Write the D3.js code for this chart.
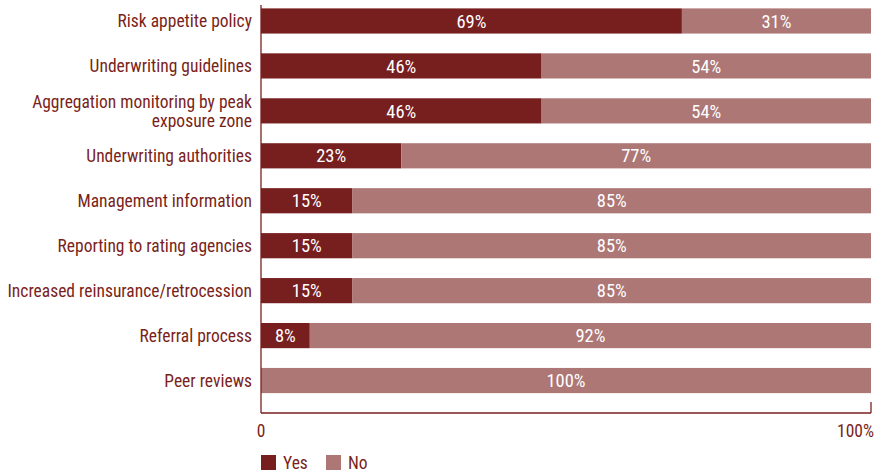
<!DOCTYPE html>
<html>
<head>
<meta charset="utf-8">
<script src="https://cdn.jsdelivr.net/npm/d3@7"></script>
<style>
  html, body { margin: 0; padding: 0; background: #fff; }
  svg { display: block; font-family: "Liberation Sans Narrow", "Arial Narrow", "Roboto Condensed", sans-serif; font-stretch: condensed; }
</style>
</head>
<body>
<svg id="chart" width="878" height="475"></svg>
<script>
// Share of respondents using each control, Yes vs No
const categories = [
  "Risk appetite policy",
  "Underwriting guidelines",
  "Aggregation monitoring by peak|exposure zone",
  "Underwriting authorities",
  "Management information",
  "Reporting to rating agencies",
  "Increased reinsurance/retrocession",
  "Referral process",
  "Peer reviews"
];
const yesValues = [69, 46, 46, 23, 15, 15, 15, 8, 0];
const noValues  = [31, 54, 54, 77, 85, 85, 85, 92, 100];
const seriesNames = ["Yes", "No"];
const xTickLabels = ["0", "100%"];

const colors = { Yes: "#771e1f", No: "#ad7776" };
const textColor = "#7a1f20";

const svg = d3.select("#chart");
const margin = { left: 261, right: 7 };
const plotW = 878 - margin.left - margin.right;

const x = d3.scaleLinear().domain([0, 100]).range([margin.left, margin.left + plotW]);
const y = d3.scaleBand().domain(categories).range([-1.5, 403]).paddingInner(0.44).paddingOuter(0.22);

const rows = categories.map((c, i) => ({ cat: c, Yes: yesValues[i], No: noValues[i] }));
const stacked = d3.stack().keys(seriesNames)(rows);

// stacked bars with their percentage labels
const g = svg.append("g");
stacked.forEach(layer => {
  const key = layer.key;
  g.selectAll(null).data(layer).join("rect")
    .attr("x", d => x(d[0]))
    .attr("y", d => y(d.data.cat))
    .attr("width", d => x(d[1]) - x(d[0]))
    .attr("height", y.bandwidth())
    .attr("fill", colors[key]);
  g.selectAll(null).data(layer.filter(d => d[1] - d[0] > 0)).join("text")
    .attr("x", d => (x(d[0]) + x(d[1])) / 2)
    .attr("y", d => y(d.data.cat) + y.bandwidth() / 2)
    .attr("dy", "0.36em")
    .attr("text-anchor", "middle")
    .attr("fill", "#fff")
    .attr("font-size", 18.5)
    .text(d => (d[1] - d[0]) + "%");
});

// category labels ("|" marks a line break)
const labels = svg.append("g");
const lineGap = 19;
categories.forEach(c => {
  const lines = c.split("|");
  const cy = y(c) + y.bandwidth() / 2;
  const top = cy - (lines.length - 1) * lineGap / 2;
  const t = labels.append("text")
    .attr("text-anchor", "end")
    .attr("fill", textColor)
    .attr("font-size", 17.5);
  lines.forEach((ln, j) => {
    t.append("tspan")
      .attr("x", margin.left - 9)
      .attr("y", top + j * lineGap)
      .attr("dy", "0.36em")
      .text(ln);
  });
});

// axis frame: left and bottom lines, end tick
const axisBottom = 413;
const axisStroke = { stroke: textColor, "stroke-width": 1.3 };
function line(x1, y1, x2, y2) {
  const l = svg.append("line").attr("x1", x1).attr("y1", y1).attr("x2", x2).attr("y2", y2);
  Object.entries(axisStroke).forEach(([k, v]) => l.attr(k, v));
}
line(x(0), 5, x(0), axisBottom);
line(x(0), axisBottom, x(100), axisBottom);
line(x(100), 402, x(100), axisBottom);

// tick labels
svg.append("text").attr("x", x(0)).attr("y", 437).attr("text-anchor", "middle")
  .attr("fill", textColor).attr("font-size", 17.5).text(xTickLabels[0]);
svg.append("text").attr("x", x(100) + 3).attr("y", 437).attr("text-anchor", "end")
  .attr("fill", textColor).attr("font-size", 17.5).text(xTickLabels[1]);

// legend
const legend = svg.append("g");
const legendX = [261, 326];
seriesNames.forEach((s, i) => {
  legend.append("rect").attr("x", legendX[i]).attr("y", 455).attr("width", 15).attr("height", 15)
    .attr("fill", colors[s]);
  legend.append("text").attr("x", legendX[i] + 22).attr("y", 469)
    .attr("fill", textColor).attr("font-size", 17.5).text(s);
});
</script>
</body>
</html>
